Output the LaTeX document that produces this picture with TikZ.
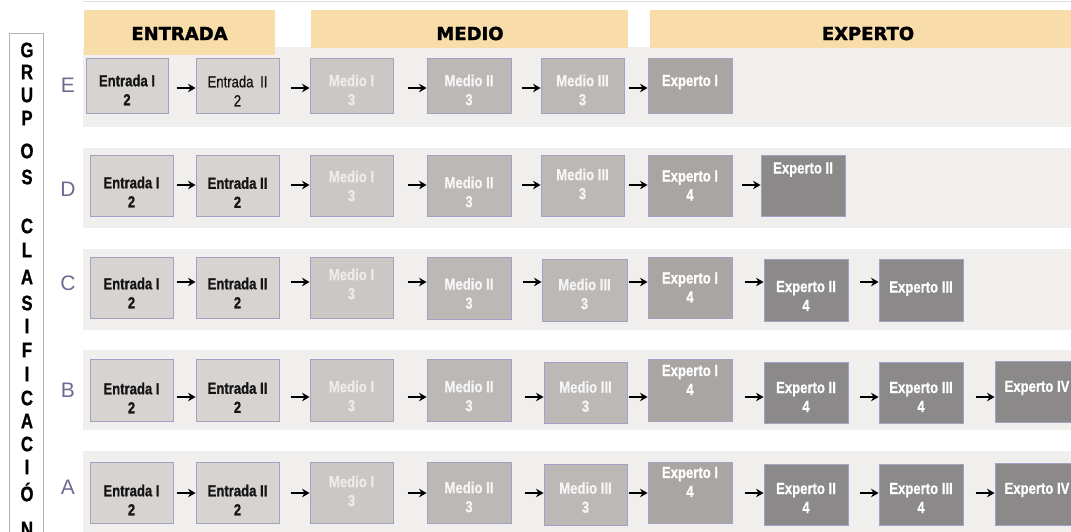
\documentclass[tikz,border=0pt]{standalone}
\usepackage{fontspec}
\setmainfont{Liberation Sans}
\newfontfamily\bxfont[FakeStretch=0.82,FakeBold=0.8]{Liberation Sans}
\newfontfamily\vfont[FakeStretch=0.8,FakeBold=0.8]{Liberation Sans}
\newfontfamily\hdfont[FakeBold=1.6]{DejaVu Sans}
\usetikzlibrary{arrows.meta,calc}
\definecolor{band}{HTML}{F1EEEE}
\definecolor{hdr}{HTML}{F8DCA9}
\definecolor{bord}{HTML}{A4A2C4}
\definecolor{cEnt}{HTML}{D6D3D1}
\definecolor{cM1}{HTML}{CBC7C5}
\definecolor{cM1t}{HTML}{EEEBEA}
\definecolor{cM2}{HTML}{BCB8B6}
\definecolor{cX1}{HTML}{A9A5A3}
\definecolor{cX2}{HTML}{8B8989}
\definecolor{rowlab}{HTML}{6D6A91}
\tikzset{
  box/.style={draw=bord, line width=0.9pt, inner sep=0pt, anchor=center},
  txt/.style={font={\bxfont\bfseries\fontsize{16}{19}\selectfont}, align=center, inner sep=0pt},
  entb/.style={fill=cEnt}, entt/.style={text=black!92},
  m1b/.style={fill=cM1}, m1t/.style={text=cM1t},
  m2b/.style={fill=cM2}, m2t/.style={text=white!96!black},
  x1b/.style={fill=cX1}, x1t/.style={text=white},
  x2b/.style={fill=cX2}, x2t/.style={text=white},
  arr/.style={-{Stealth[length=7.5pt,width=8.5pt]}, line width=2.8pt, black},
  hdrbox/.style={fill=hdr, inner sep=0pt, anchor=center},
  hdrtxt/.style={font={\hdfont\bfseries\fontsize{18}{20}\selectfont}, text=black},
  rowl/.style={font={\fontsize{21}{22}\selectfont}, text=rowlab},
  vlet/.style={font={\vfont\bfseries\fontsize{21}{22}\selectfont}, text=black, inner sep=0pt}
}
% name x1 y1 x2 y2 kind dy text
\newcommand\bx[8]{%
  \node[box,#6b,minimum width={#4-#2},minimum height={#5-#3}] (#1) at ({(#2+#4)/2},{(#3+#5)/2}) {};
  \node[txt,#6t] (#1t) at ($(#1.center)+(0,#7)$) {#8};}
\newcommand\lk[3]{\draw[arr] let \p1=(#1.east), \p2=(#2.west) in (\x2-19pt,-#3pt) -- (\x2,-#3pt);}
\begin{document}
\begin{tikzpicture}[x=1pt,y=-1pt]
\useasboundingbox (0,0) rectangle (1071,531);
\clip (0,0) rectangle (1071,531);
\fill[white] (0,0) rectangle (1071,531);
\draw[line width=1.5pt, black!13] (83,1.5) -- (1071,1.5);
% bands
\foreach \a/\b in {47/127,148/228,249/330,350/430,451/540}
  \fill[band] (83,\a) rectangle (1071,\b);
% headers
\node[hdrbox,minimum width=191,minimum height=45] (hE) at (179.5,32.5) {};
\node[hdrbox,minimum width=317,minimum height=38] (hM) at (469.5,29) {};
\node[hdrbox,minimum width=421,minimum height=38] (hX) at (860.5,29) {};
\node[hdrtxt] (hEt) at (179.5,33.5) {ENTRADA};
\node[hdrtxt] (hMt) at (470,33.5) {MEDIO};
\node[hdrtxt] (hXt) at (868,33.5) {EXPERTO};
% left box
\draw[line width=0.8pt, black!30, fill=white] (9,33) rectangle (43,545);
\foreach \l/\y [count=\i] in {G/50,R/72,U/95,P/118,O/151,S/177,C/226,L/250,A/277,S/303,I/326,F/350,I/374,C/398,A/421,C/444,I/467,Ó/492,N/529}
  \node[vlet] (v\i) at (27,\y) {\l};
% row labels
\node[rowl] (lE) at (68,85) {E};
\node[rowl] (lD) at (68,189) {D};
\node[rowl] (lC) at (68,283) {C};
\node[rowl] (lB) at (68,390) {B};
\node[rowl] (lA) at (68,487) {A};
% Row E
\bx{e1}{86}{58}{168}{113}{ent}{4.5}{Entrada I\\2}
\bx{e2}{196}{58}{279}{113}{ent}{5.5}{\mdseries Entrada\hspace{3pt} II\\\mdseries 2}
\bx{e3}{310}{58}{393}{113}{m1}{4.5}{Medio I\\3}
\bx{e4}{427}{58}{511}{113}{m2}{4.5}{Medio II\\3}
\bx{e5}{541}{58}{624}{113}{m2}{4.5}{Medio III\\3}
\bx{e6}{648}{58}{732}{113}{x1}{4.5}{Experto I\\\phantom{4}}
\lk{e1}{e2}{88}\lk{e2}{e3}{88}\lk{e3}{e4}{88}\lk{e4}{e5}{88}\lk{e5}{e6}{88}
% Row D
\bx{d1}{90}{155}{173}{216}{ent}{6.5}{Entrada I\\2}
\bx{d2}{196}{155}{279}{216}{ent}{7}{Entrada II\\2}
\bx{d3}{310}{155}{393}{216}{m1}{0.5}{Medio I\\3}
\bx{d4}{427}{155}{511}{216}{m2}{6.5}{Medio II\\3}
\bx{d5}{541}{155}{624}{216}{m2}{-1.5}{Medio III\\3}
\bx{d6}{648}{155}{732}{216}{x1}{0}{Experto I\\4}
\bx{d7}{761}{155}{845}{216}{x2}{-8}{Experto II\\\phantom{4}}
\lk{d1}{d2}{185}\lk{d2}{d3}{185}\lk{d3}{d4}{185}\lk{d4}{d5}{185}\lk{d5}{d6}{185}\lk{d6}{d7}{185}
% Row C
\bx{c1}{90}{257}{173}{318}{ent}{5.5}{Entrada I\\2}
\bx{c2}{196}{257}{279}{318}{ent}{5.5}{Entrada II\\2}
\bx{c3}{310}{257}{393}{318}{m1}{-3.5}{Medio I\\3}
\bx{c4}{427}{257}{511}{319}{m2}{5.5}{Medio II\\3}
\bx{c5}{542}{259}{627}{321}{m2}{4}{Medio III\\3}
\bx{c6}{648}{257}{732}{318}{x1}{0}{Experto I\\4}
\bx{c7}{764}{259}{848}{321}{x2}{6}{Experto II\\4}
\bx{c8}{879}{259}{963}{321}{x2}{6.5}{Experto III\\\phantom{4}}
\lk{c1}{c2}{282}\lk{c2}{c3}{282}\lk{c3}{c4}{282}\lk{c4}{c5}{282}\lk{c5}{c6}{282}\lk{c6}{c7}{282}\lk{c7}{c8}{282}
% Row B
\bx{b1}{90}{359}{173}{421}{ent}{8}{Entrada I\\2}
\bx{b2}{196}{359}{279}{421}{ent}{7.5}{Entrada II\\2}
\bx{b3}{310}{359}{393}{421}{m1}{6}{Medio I\\3}
\bx{b4}{427}{359}{511}{421}{m2}{6}{Medio II\\3}
\bx{b5}{544}{362}{627}{423}{m2}{4}{Medio III\\3}
\bx{b6}{648}{359}{732}{421}{x1}{-10}{Experto I\\4}
\bx{b7}{764}{362}{848}{423}{x2}{4.5}{Experto II\\4}
\bx{b8}{879}{362}{963}{423}{x2}{4.5}{Experto III\\4}
\bx{b9}{995}{361}{1079}{422}{x2}{-3.5}{Experto IV}
\lk{b1}{b2}{397}\lk{b2}{b3}{397}\lk{b3}{b4}{397}\lk{b4}{b5}{397}\lk{b5}{b6}{397}\lk{b6}{b7}{397}\lk{b7}{b8}{397}\lk{b8}{b9}{397}
% Row A
\bx{a1}{90}{462}{173}{523}{ent}{7.5}{Entrada I\\2}
\bx{a2}{196}{462}{279}{523}{ent}{7.5}{Entrada II\\2}
\bx{a3}{310}{462}{393}{523}{m1}{-1.5}{Medio I\\3}
\bx{a4}{427}{462}{511}{523}{m2}{4.5}{Medio II\\3}
\bx{a5}{544}{464}{627}{525}{m2}{3}{Medio III\\3}
\bx{a6}{648}{462}{732}{523}{x1}{-10.5}{Experto I\\4}
\bx{a7}{764}{464}{848}{525}{x2}{3.5}{Experto II\\4}
\bx{a8}{879}{464}{963}{525}{x2}{3.5}{Experto III\\4}
\bx{a9}{995}{463}{1079}{525}{x2}{-4}{Experto IV}
\lk{a1}{a2}{493}\lk{a2}{a3}{493}\lk{a3}{a4}{493}\lk{a4}{a5}{493}\lk{a5}{a6}{493}\lk{a6}{a7}{493}\lk{a7}{a8}{493}\lk{a8}{a9}{493}
\end{tikzpicture}
\end{document}
